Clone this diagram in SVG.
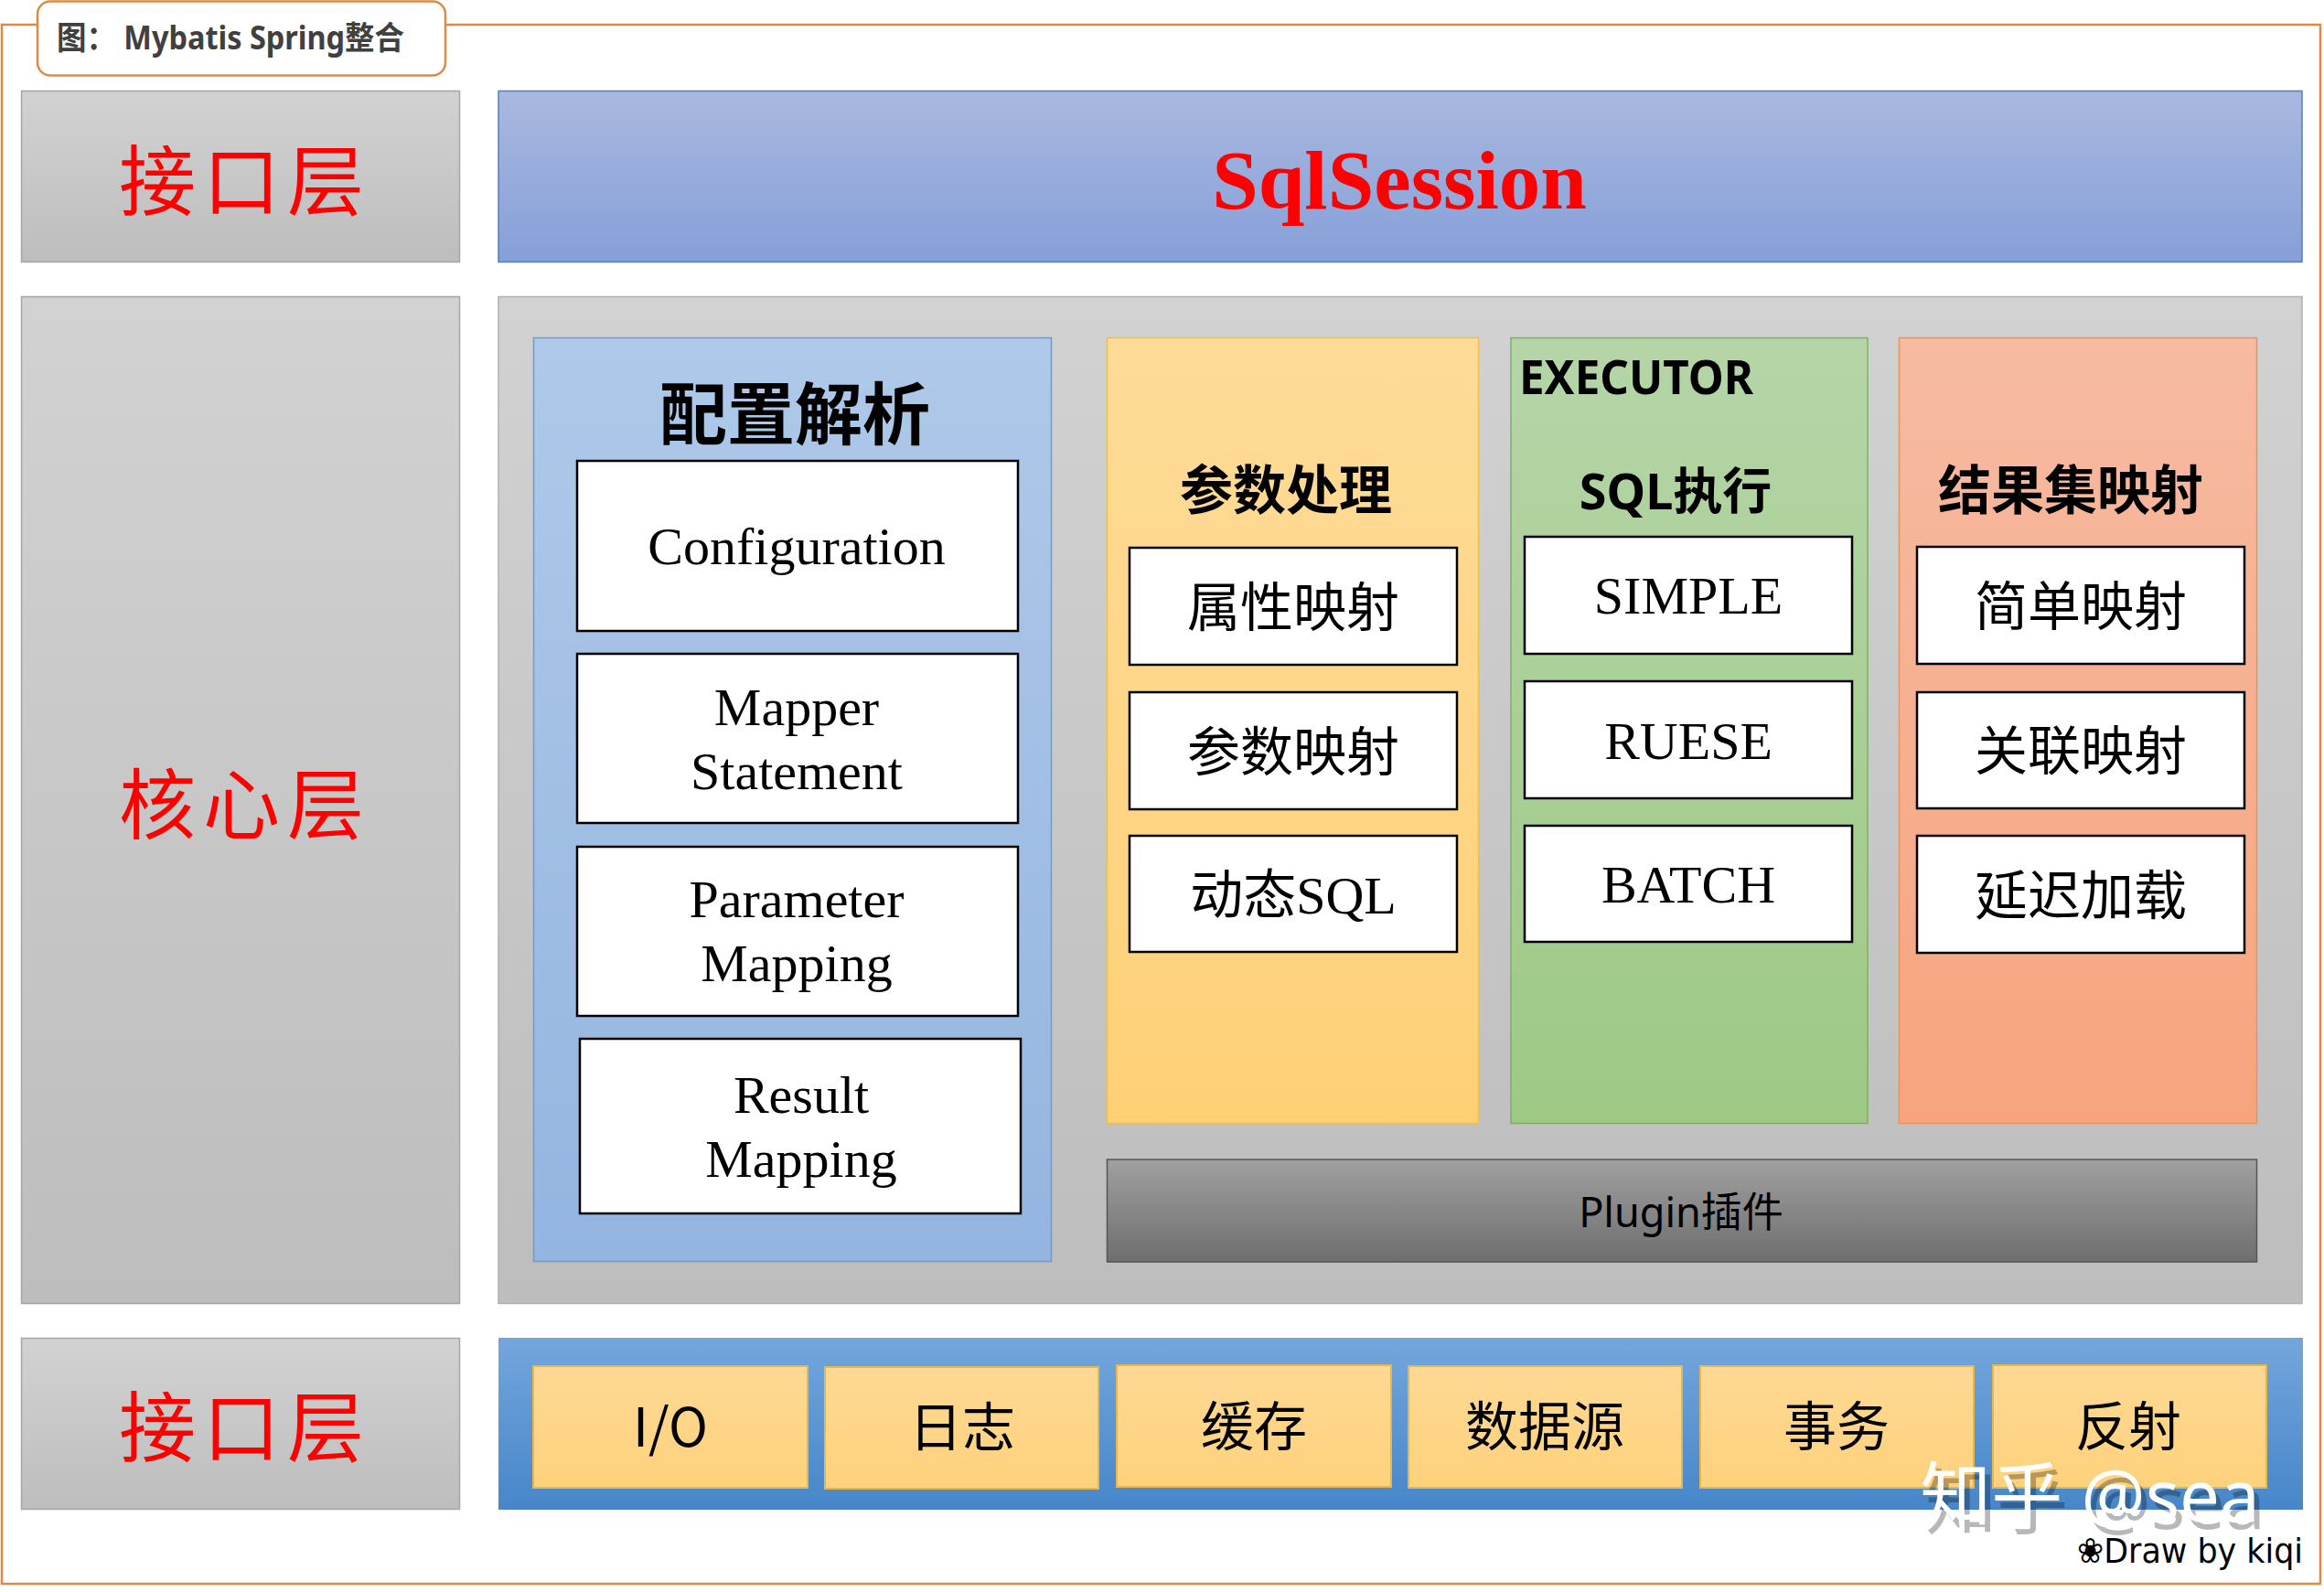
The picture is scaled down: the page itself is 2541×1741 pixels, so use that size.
<svg xmlns="http://www.w3.org/2000/svg" width="2541" height="1741" viewBox="0 0 2541 1741">
<defs>
<linearGradient id="gGray" x1="0" y1="0" x2="0" y2="1"><stop offset="0" stop-color="#d2d2d2"/><stop offset="1" stop-color="#bdbdbd"/></linearGradient>
<linearGradient id="gBlue" x1="0" y1="0" x2="0" y2="1"><stop offset="0" stop-color="#a9b8e0"/><stop offset="1" stop-color="#85a0d8"/></linearGradient>
<linearGradient id="gPanel" x1="0" y1="0" x2="0" y2="1"><stop offset="0" stop-color="#aec9e9"/><stop offset="1" stop-color="#94b5e0"/></linearGradient>
<linearGradient id="gYellow" x1="0" y1="0" x2="0" y2="1"><stop offset="0" stop-color="#fedb98"/><stop offset="1" stop-color="#fed177"/></linearGradient>
<linearGradient id="gGreen" x1="0" y1="0" x2="0" y2="1"><stop offset="0" stop-color="#b5d5a7"/><stop offset="1" stop-color="#9dc985"/></linearGradient>
<linearGradient id="gOrange" x1="0" y1="0" x2="0" y2="1"><stop offset="0" stop-color="#f6bba2"/><stop offset="1" stop-color="#f7a47e"/></linearGradient>
<linearGradient id="gPlugin" x1="0" y1="0" x2="0" y2="1"><stop offset="0" stop-color="#a0a0a0"/><stop offset="1" stop-color="#6e6e6e"/></linearGradient>
<linearGradient id="gBar" x1="0" y1="0" x2="0" y2="1"><stop offset="0" stop-color="#74a6dc"/><stop offset="1" stop-color="#4686c9"/></linearGradient>
<linearGradient id="gCell" x1="0" y1="0" x2="0" y2="1"><stop offset="0" stop-color="#fed994"/><stop offset="1" stop-color="#fed27c"/></linearGradient>
</defs>
<style>
text{font-family:"Liberation Sans","Noto Sans CJK SC",sans-serif;text-anchor:middle;fill:#000}
.layer{fill:url(#gGray);stroke:#a5a5a5;stroke-width:1.5}
.red{font-family:"Noto Sans CJK SC",sans-serif;fill:#f00;font-size:84px;letter-spacing:8px}
.box{fill:#fff;stroke:#000;stroke-width:2.5}
.serif{font-family:"Liberation Serif","Noto Sans CJK SC",serif;font-size:58px}
.cjk{font-family:"Liberation Serif","Noto Sans CJK SC",sans-serif;font-size:58px}
.head{font-family:"Noto Sans CJK SC",sans-serif;font-weight:700;font-size:58px}
.cell{fill:url(#gCell);stroke:#e2b84f;stroke-width:2}
.celltxt{font-family:"Noto Sans CJK SC",sans-serif;font-size:58px}
</style>
<rect width="2541" height="1741" fill="#fff"/>
<rect id="frame" x="2" y="27" width="2535" height="1705" fill="none" stroke="#de8a46" stroke-width="2.5"/>
<g id="title"><rect x="41" y="1.5" width="446" height="81" rx="14" fill="#fff" stroke="#de8a46" stroke-width="2.5"/>
<text x="252" y="54" style="font-family:'Noto Sans','Noto Sans CJK SC',sans-serif;font-weight:700;font-size:35px;fill:#404040" textLength="380" lengthAdjust="spacingAndGlyphs">图： Mybatis Spring整合</text></g>

<g id="layer-interface-top"><rect class="layer" x="23.5" y="99.5" width="479" height="187"/><text class="red" x="268" y="229">接口层</text></g>
<g id="sqlsession"><rect x="545" y="99.5" width="1972" height="187" fill="url(#gBlue)" stroke="#5b7cb8" stroke-width="1.5"/>
<text x="1530" y="228" style="font-family:'Liberation Serif',serif;font-weight:700;font-size:91px;fill:#f00">SqlSession</text></g>

<g id="layer-core"><rect class="layer" x="23.5" y="324.5" width="479" height="1101"/><text class="red" x="268" y="911">核心层</text></g>
<rect id="core" x="545" y="324.5" width="1972" height="1101" stroke="#b0b0b0" stroke-width="1.5" style="fill:url(#gGray)"/>

<g id="config"><rect x="583.5" y="369.5" width="566" height="1010" fill="url(#gPanel)" stroke="#6f9bd1" stroke-width="1.5"/>
<text class="head" x="869" y="480" style="font-size:74px">配置解析</text></g>
<g id="configuration"><rect class="box" x="631" y="504" width="482" height="186"/><text class="serif" x="871" y="617">Configuration</text></g>
<g id="mapper"><rect class="box" x="631" y="715" width="482" height="185"/><text class="serif" x="871" y="793">Mapper</text><text class="serif" x="871" y="863">Statement</text></g>
<g id="parameter"><rect class="box" x="631" y="926" width="482" height="185"/><text class="serif" x="871" y="1003">Parameter</text><text class="serif" x="871" y="1073">Mapping</text></g>
<g id="result"><rect class="box" x="634" y="1136" width="482" height="191"/><text class="serif" x="876" y="1217">Result</text><text class="serif" x="876" y="1287">Mapping</text></g>

<g id="params"><rect x="1210.5" y="369.5" width="406" height="859" fill="url(#gYellow)" stroke="#eec04f" stroke-width="1.5"/>
<text class="head" x="1406" y="557">参数处理</text></g>
<g id="p1"><rect class="box" x="1235" y="599" width="358" height="128"/><text class="cjk" x="1414" y="685">属性映射</text></g>
<g id="p2"><rect class="box" x="1235" y="757" width="358" height="128"/><text class="cjk" x="1414" y="843">参数映射</text></g>
<g id="p3"><rect class="box" x="1235" y="914" width="358" height="127"/><text class="cjk" x="1414" y="999">动态SQL</text></g>

<g id="executor"><rect x="1652" y="369.5" width="390" height="859" fill="url(#gGreen)" stroke="#7fae6a" stroke-width="1.5"/>
<text x="1661" y="431" style="text-anchor:start;font-family:'Noto Sans','Noto Sans CJK SC',sans-serif;font-weight:700;font-size:52px" textLength="256" lengthAdjust="spacingAndGlyphs">EXECUTOR</text>
<text x="1832" y="557" style="font-family:'Noto Sans','Noto Sans CJK SC',sans-serif;font-weight:700;font-size:54px">SQL执行</text></g>
<g id="e1"><rect class="box" x="1667" y="587" width="358" height="128"/><text class="serif" x="1846" y="671">SIMPLE</text></g>
<g id="e2"><rect class="box" x="1667" y="745" width="358" height="128"/><text class="serif" x="1846" y="830">RUESE</text></g>
<g id="e3"><rect class="box" x="1667" y="903" width="358" height="127"/><text class="serif" x="1846" y="987">BATCH</text></g>

<g id="results"><rect x="2076.5" y="369.5" width="391" height="859" fill="url(#gOrange)" stroke="#e8935f" stroke-width="1.5"/>
<text class="head" x="2264" y="557">结果集映射</text></g>
<g id="r1"><rect class="box" x="2096" y="598" width="358" height="128"/><text class="cjk" x="2275" y="684">简单映射</text></g>
<g id="r2"><rect class="box" x="2096" y="757" width="358" height="127"/><text class="cjk" x="2275" y="842">关联映射</text></g>
<g id="r3"><rect class="box" x="2096" y="914" width="358" height="128"/><text class="cjk" x="2275" y="1000">延迟加载</text></g>

<g id="plugin"><rect x="1210.5" y="1268" width="1257" height="112" fill="url(#gPlugin)" stroke="#555" stroke-width="1.5"/>
<text x="1838" y="1342" style="font-family:'Noto Sans','Noto Sans CJK SC',sans-serif;font-size:45px">Plugin插件</text></g>

<g id="layer-interface-bottom"><rect class="layer" x="23.5" y="1463.5" width="479" height="187"/><text class="red" x="268" y="1592">接口层</text></g>
<g id="bar"><rect x="545" y="1463" width="1973" height="188" fill="url(#gBar)"/></g>
<g id="io"><rect class="cell" x="583" y="1494" width="300" height="133"/><text class="celltxt" x="733" y="1582">I/O</text></g>
<g id="log"><rect class="cell" x="902" y="1495" width="299" height="133"/><text class="celltxt" x="1052" y="1582">日志</text></g>
<g id="cache"><rect class="cell" x="1221" y="1493" width="300" height="133"/><text class="celltxt" x="1371" y="1581">缓存</text></g>
<g id="ds"><rect class="cell" x="1540" y="1494" width="299" height="133"/><text class="celltxt" x="1689" y="1581">数据源</text></g>
<g id="tx"><rect class="cell" x="1859" y="1494" width="299" height="133"/><text class="celltxt" x="2008" y="1581">事务</text></g>
<g id="reflect"><rect class="cell" x="2179" y="1493" width="299" height="134"/><text class="celltxt" x="2327" y="1581">反射</text></g>

<g id="watermark"><text x="2291" y="1672" style="font-family:'Noto Sans','Noto Sans CJK SC',sans-serif;font-size:78px;fill:#000;fill-opacity:.28">知乎 @sea</text>
<text x="2285" y="1664" style="font-family:'Noto Sans','Noto Sans CJK SC',sans-serif;font-size:78px;fill:#fff">知乎 @sea</text></g>
<text id="credit" x="2271" y="1709" style="text-anchor:start;font-family:'DejaVu Sans',sans-serif;font-size:38px" textLength="247" lengthAdjust="spacingAndGlyphs">❀Draw by kiqi</text>
</svg>
